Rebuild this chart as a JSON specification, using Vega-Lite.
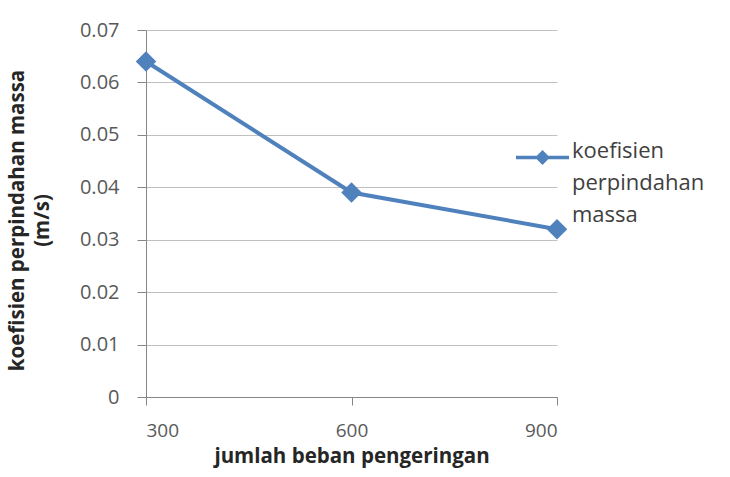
{
  "$schema": "https://vega.github.io/schema/vega-lite/v6.json",
  "width": 411,
  "height": 367,
  "autosize": {"type": "none"},
  "padding": {"left": 146, "top": 30, "right": 173, "bottom": 80},
  "background": "white",
  "config": {
    "view": {"stroke": null},
    "font": "Open Sans",
    "style": {"guide-label": {"lineHeight": 32}}
  },
  "data": {
    "values": [
      {"beban": 300, "k": 0.064, "series": "koefisien perpindahan massa"},
      {"beban": 600, "k": 0.039, "series": "koefisien perpindahan massa"},
      {"beban": 900, "k": 0.032, "series": "koefisien perpindahan massa"}
    ]
  },
  "encoding": {
    "x": {
      "field": "beban",
      "type": "quantitative",
      "scale": {"domain": [300, 900], "nice": false, "zero": false},
      "axis": {
        "values": [300, 600, 900],
        "grid": false,
        "domainColor": "#868686",
        "tickColor": "#868686",
        "tickSize": 8,
        "labelFontSize": 19,
        "labelColor": "#595959",
        "labelPadding": 16,
        "title": "jumlah beban pengeringan",
        "titleFontSize": 20.5,
        "titleFontWeight": "bold",
        "titleColor": "#262626",
        "titleBaseline": "alphabetic",
        "titleY": 65
      }
    },
    "y": {
      "field": "k",
      "type": "quantitative",
      "scale": {"domain": [0, 0.07], "nice": false},
      "axis": {
        "values": [0, 0.01, 0.02, 0.03, 0.04, 0.05, 0.06, 0.07],
        "labelExpr": "datum.value == 0 ? '0' : format(datum.value, '.2f')",
        "grid": true,
        "gridColor": "#c0c0c0",
        "domainColor": "#868686",
        "tickColor": "#868686",
        "tickSize": 9,
        "labelFontSize": 20,
        "labelColor": "#595959",
        "labelPadding": 18,
        "title": ["koefisien perpindahan massa", "(m/s)"],
        "titleFontSize": 20.5,
        "titleFontWeight": "bold",
        "titleColor": "#262626",
        "titleLineHeight": 25,
        "titleAngle": 270,
        "titleBaseline": "top",
        "titleAlign": "center",
        "titleX": -139,
        "titleY": 190
      }
    }
  },
  "layer": [
    {
      "mark": {"type": "line", "color": "#4f81bd", "strokeWidth": 4}
    },
    {
      "mark": {"type": "point", "shape": "diamond", "filled": true, "size": 420, "opacity": 1},
      "encoding": {
        "color": {
          "field": "series",
          "type": "nominal",
          "scale": {"range": ["#4f81bd"]},
          "legend": {
            "orient": "none",
            "legendX": 370,
            "legendY": 101,
            "title": null,
            "padding": 0,
            "symbolType": "M-1,-0.066H-0.214L0,-0.28L0.214,-0.066H1V0.066H0.214L0,0.28L-0.214,0.066H-1Z",
            "symbolSize": 2809,
            "symbolStrokeWidth": 0,
            "symbolOpacity": 1,
            "labelExpr": "['koefisien','perpindahan','massa']",
            "labelFontSize": 22,
            "labelColor": "#404040",
            "labelBaseline": "alphabetic",
            "labelOffset": 3,
            "labelLimit": 0
          }
        }
      }
    }
  ]
}
